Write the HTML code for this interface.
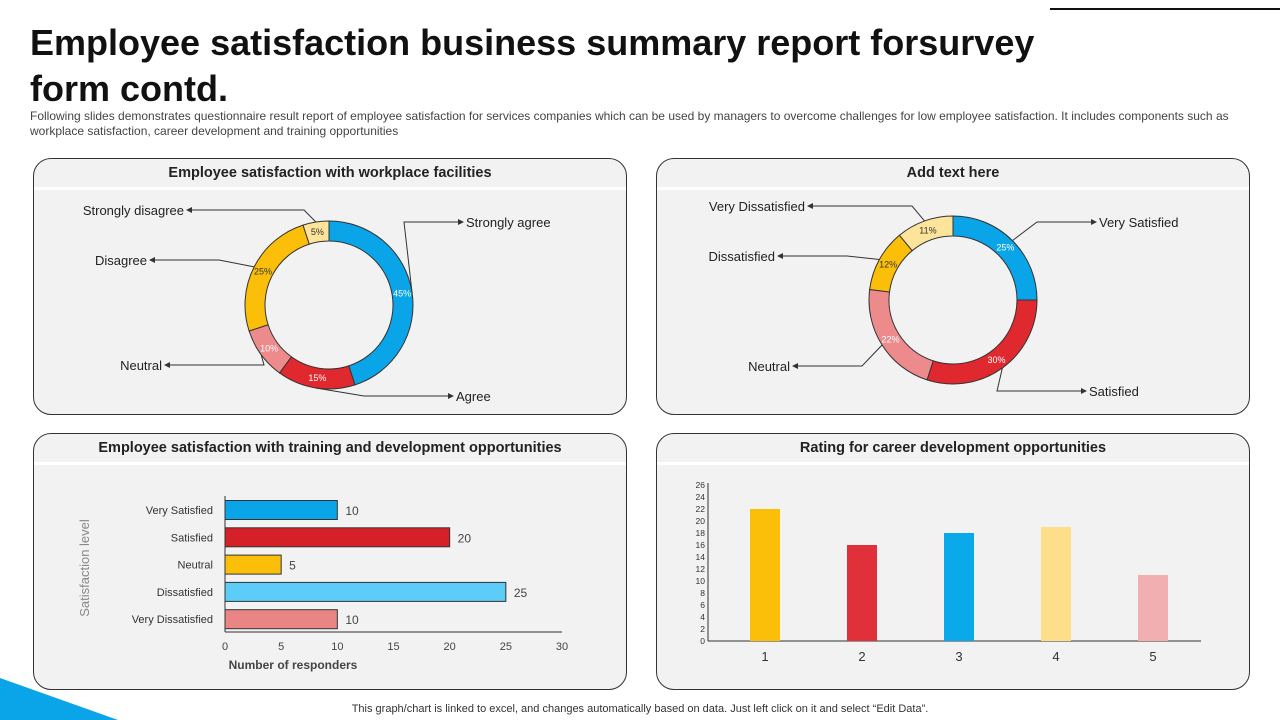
<!DOCTYPE html>
<html><head><meta charset="utf-8">
<style>
body{margin:0;width:1280px;height:720px;background:#fff;font-family:"Liberation Sans",sans-serif;position:relative;overflow:hidden}
.title{position:absolute;left:30px;top:20px;font-size:36px;font-weight:bold;line-height:46px;color:#111;letter-spacing:0}
.sub{position:absolute;left:30px;top:109px;width:1240px;font-size:12px;letter-spacing:0;line-height:15px;color:#444;white-space:nowrap}
.panel{position:absolute;width:592px;height:255px;border:1px solid #333;border-radius:18px;background:#f2f2f2;overflow:hidden}
.panel .hd{height:28px;border-bottom:3px solid #fff;text-align:center;font-weight:bold;font-size:14.5px;line-height:28px;color:#222}
.panel svg{position:absolute;left:0;top:0}
.foot{position:absolute;top:703px;left:0;width:1280px;text-align:center;font-size:11px;color:#333}
</style></head><body>
<div style="position:absolute;left:1050px;top:8px;width:230px;height:2px;background:#111"></div>
<div class="title">Employee satisfaction business summary report forsurvey<br>form contd.</div>
<div class="sub">Following slides demonstrates questionnaire result report of employee satisfaction for services companies which can be used by managers to overcome challenges for low employee satisfaction. It includes components such as<br>workplace satisfaction, career development and training opportunities</div>

<div class="panel" style="left:33px;top:158px"><div class="hd">Employee satisfaction with workplace facilities</div><svg id="d1" width="592" height="255"></svg></div>
<div class="panel" style="left:656px;top:158px"><div class="hd">Add text here</div><svg id="d2" width="592" height="255"></svg></div>
<div class="panel" style="left:33px;top:433px"><div class="hd">Employee satisfaction with training and development opportunities</div><svg id="hb" width="592" height="255"></svg></div>
<div class="panel" style="left:656px;top:433px"><div class="hd">Rating for career development opportunities</div><svg id="vb" width="592" height="255"></svg></div>

<svg style="position:absolute;left:0;top:670px" width="130" height="50"><polygon points="0,8 0,50 118,50" fill="#0aa5e8"/></svg>
<div class="foot">This graph/chart is linked to excel, and changes automatically based on data. Just left click on it and select “Edit Data”.</div>

<script>
const NS="http://www.w3.org/2000/svg";
function mk(p,t,a){const e=document.createElementNS(NS,t);for(const k in a)e.setAttribute(k,a[k]);p.appendChild(e);return e;}

const d1Labels=["Strongly agree","Agree","Neutral","Disagree","Strongly disagree"];
const d1Values=[45,15,10,25,5];
const d2Labels=["Very Satisfied","Satisfied","Neutral","Dissatisfied","Very Dissatisfied"];
const d2Values=[25,30,22,12,11];
const donutColors=["#0aa5e8","#e0282f","#ec8a8c","#fbbf0a","#fde49a"];
const hbCats=["Very Satisfied","Satisfied","Neutral","Dissatisfied","Very Dissatisfied"];
const hbValues=[10,20,5,25,10];
const hbTicks=[0,5,10,15,20,25,30];
const hbColors=["#0aa5e8","#d62027","#fbbf0a","#5bcdf8","#e98585"];
const vbCats=["1","2","3","4","5"];
const vbValues=[22,16,18,19,11];
const vbTicks=[0,2,4,6,8,10,12,14,16,18,20,22,24,26];
const vbColors=["#fbbf0a","#e0313a","#0aaaea","#fddf8a","#f2afb1"];

function donut(id,labels,values,cx,cy,lab){
  const svg=document.getElementById(id);
  const R=84,r=64,tot=values.reduce((a,b)=>a+b,0);
  let a0=0;
  values.forEach((v,i)=>{
    const a1=a0+v/tot*2*Math.PI;
    const P=(rad,a)=>[cx+rad*Math.sin(a),cy-rad*Math.cos(a)];
    const [x1,y1]=P(R,a0),[x2,y2]=P(R,a1),[x3,y3]=P(r,a1),[x4,y4]=P(r,a0);
    const lg=(a1-a0)>Math.PI?1:0;
    const s=mk(svg,"path",{d:`M${x1},${y1}A${R},${R} 0 ${lg} 1 ${x2},${y2}L${x3},${y3}A${r},${r} 0 ${lg} 0 ${x4},${y4}Z`,fill:donutColors[i],stroke:"#333","stroke-width":1});
    
    
    const am=(a0+a1)/2,[tx,ty]=P((R+r)/2,am);
    const t=mk(svg,"text",{x:tx,y:ty+3,"font-size":9,"text-anchor":"middle",fill:i==0||i==1||i==2?"#fff":"#333"});t.textContent=v+"%";
    
    
    const L=lab[i],[ex,ey]=P(R,am);
    mk(svg,"polyline",{points:`${ex},${ey} ${L[2]},${L[1]} ${L[0]+(L[3]?-4:4)},${L[1]}`,fill:"none",stroke:"#333","stroke-width":1});
    const ax=L[0]+(L[3]?-4:4);
    mk(svg,"polygon",{points:L[3]?`${ax+4},${L[1]} ${ax-2},${L[1]-3} ${ax-2},${L[1]+3}`:`${ax-4},${L[1]} ${ax+2},${L[1]-3} ${ax+2},${L[1]+3}`,fill:"#333"});
    const lt=mk(svg,"text",{x:L[3]?L[0]+2:L[0]-2,y:L[1]+5,"font-size":13,"text-anchor":L[3]?"start":"end",fill:"#222"});lt.textContent=labels[i];
    
    
    a0=a1;
  });
}
donut("d1",d1Labels,d1Values,295,146,[[430,63,370,1],[420,237,330,1],[130,206,230,0],[115,101,185,0],[152,51,270,0]]);
donut("d2",d2Labels,d2Values,296,141,[[440,63,380,1],[430,232,340,1],[135,207,205,0],[120,97,190,0],[150,47,255,0]]);

(function(){
  const svg=document.getElementById("hb"),x0=191,x1=528,top=66,step=27.3,bh=19;
  const X=v=>x0+(v-hbTicks[0])/(hbTicks[hbTicks.length-1]-hbTicks[0])*(x1-x0);
  mk(svg,"line",{x1:x0,y1:top-4,x2:x0,y2:198,stroke:"#333"});
  mk(svg,"line",{x1:x0,y1:198,x2:x1,y2:198,stroke:"#333"});
  hbTicks.forEach(t=>{const e=mk(svg,"text",{x:X(t),y:216,"font-size":11,"text-anchor":"middle",fill:"#444"});e.textContent=t;
    
    });
  hbCats.forEach((c,i)=>{
    const cy=top+10+i*step;
    const b=mk(svg,"rect",{x:x0,y:cy-bh/2,width:X(hbValues[i])-x0,height:bh,fill:hbColors[i],stroke:"#333"});
    
    
    const l=mk(svg,"text",{x:x0-12,y:cy+4,"font-size":11,"text-anchor":"end",fill:"#333"});l.textContent=c;
    
    
    const v=mk(svg,"text",{x:X(hbValues[i])+8,y:cy+5,"font-size":12,fill:"#444"});v.textContent=hbValues[i];
    
    
  });
  const xt=mk(svg,"text",{x:259,y:235,"font-size":12,"font-weight":"bold","text-anchor":"middle",fill:"#444"});xt.textContent="Number of responders";
  
  
  const yt=mk(svg,"text",{x:0,y:0,"font-size":13,"text-anchor":"middle",fill:"#888",transform:"translate(55,134) rotate(-90)"});yt.textContent="Satisfaction level";
  
  
})();

(function(){
  const svg=document.getElementById("vb"),x0=51,x1=544,y0=207,y1=51,bw=30,c0=108,step=97;
  const Y=v=>y0-(v-vbTicks[0])/(vbTicks[vbTicks.length-1]-vbTicks[0])*(y0-y1);
  mk(svg,"line",{x1:x0,y1:y1-2,x2:x0,y2:y0,stroke:"#333"});
  mk(svg,"line",{x1:x0,y1:y0,x2:x1,y2:y0,stroke:"#333"});
  vbTicks.forEach(t=>{const e=mk(svg,"text",{x:x0-0,y:Y(t)+3,"font-size":8.5,"text-anchor":"end",fill:"#333",dx:-3});e.textContent=t;
    
    });
  vbCats.forEach((c,i)=>{
    const cx=c0+i*step;
    const b=mk(svg,"rect",{x:cx-bw/2,y:Y(vbValues[i]),width:bw,height:y0-Y(vbValues[i]),fill:vbColors[i]});
    
    
    const l=mk(svg,"text",{x:cx,y:227,"font-size":13,"text-anchor":"middle",fill:"#333"});l.textContent=c;
    
    
  });
})();
</script>
</body></html>
